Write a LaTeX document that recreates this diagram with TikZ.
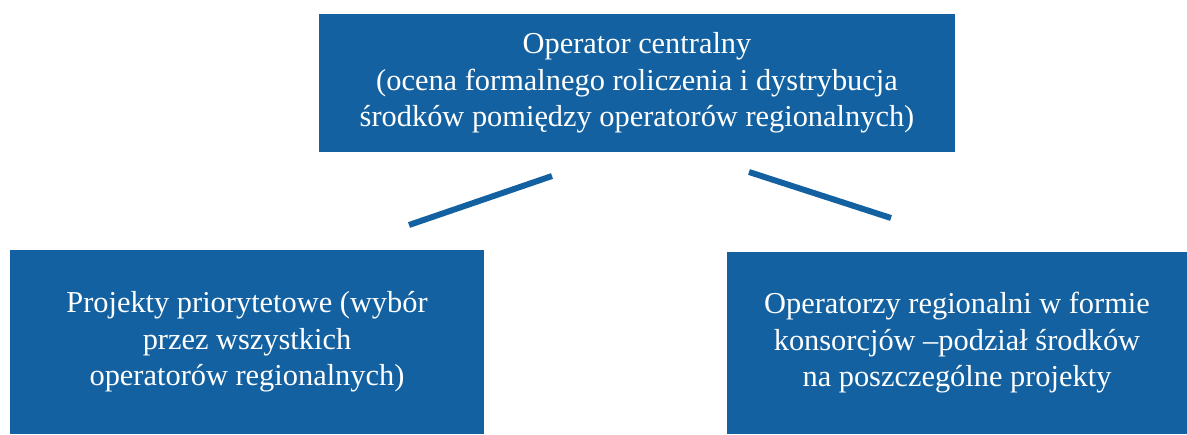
\documentclass[tikz,border=0pt]{standalone}
\usepackage{fontspec}
\setmainfont{Liberation Serif}
\usetikzlibrary{positioning,calc}
\definecolor{myblue}{RGB}{19,97,160}

\begin{document}
\begin{tikzpicture}[x=0.02cm,y=-0.02cm,
  opbox/.style={rectangle,fill=myblue,text=white,align=center,inner sep=0pt,
    font=\fontsize{17.3}{20.8}\selectfont},
  link/.style={draw=myblue,line width=3.4pt}
]
\useasboundingbox (0,0) rectangle (1187,434);

% the central operator
\node[opbox,minimum width=12.72cm,minimum height=2.76cm] (central) at (637,83)
  {Operator centralny\\(ocena formalnego roliczenia i dystrybucja\\środków pomiędzy operatorów regionalnych)};

% the two lower boxes
\node[opbox,minimum width=9.48cm,minimum height=3.68cm] (prior) at (247,342)
  {Projekty priorytetowe (wybór\\przez wszystkich\\operatorów regionalnych)};
\node[opbox,minimum width=9.2cm,minimum height=3.64cm] (regional) at (957,343)
  {Operatorzy regionalni w formie\\konsorcjów –podział środków\\na poszczególne projekty};

% the links
\coordinate (la) at (552,176);
\coordinate (lb) at (409,225);
\coordinate (ra) at (749,172);
\coordinate (rb) at (891,218);
\draw[link] (la) -- (lb);
\draw[link] (ra) -- (rb);
\end{tikzpicture}
\end{document}
